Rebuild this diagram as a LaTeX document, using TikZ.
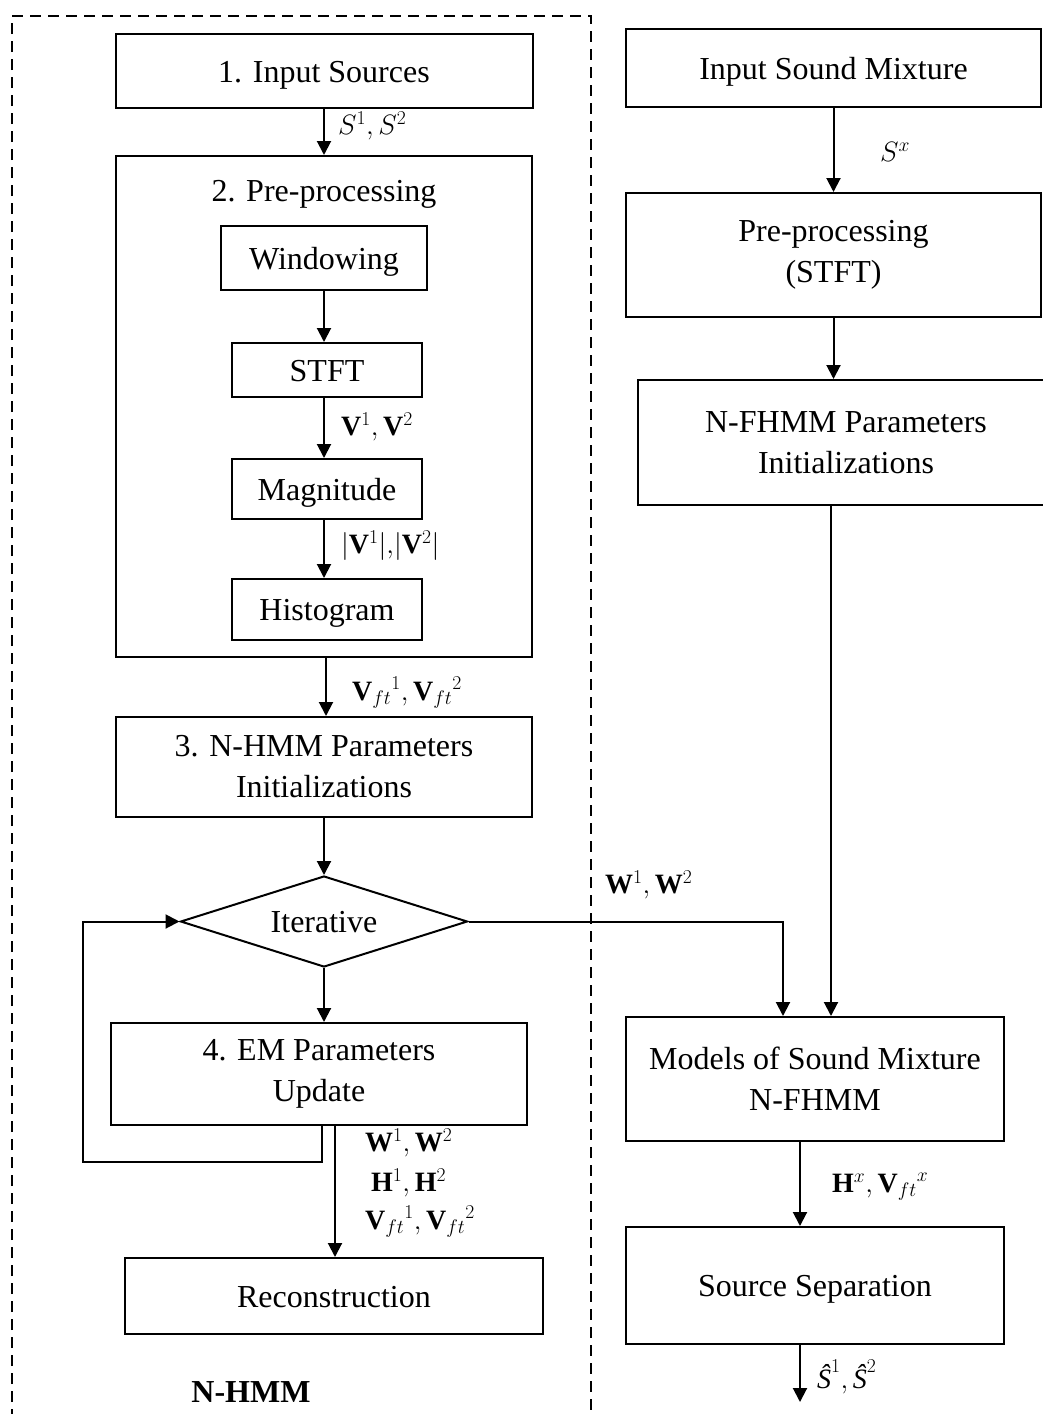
\documentclass[tikz,border=0pt]{standalone}
\usepackage{fix-cm}
\usepackage{fontspec}
\setmainfont{Liberation Serif}
\usetikzlibrary{arrows.meta,shapes.geometric}
\begin{document}
\begin{tikzpicture}[x=1pt,y=-1pt,
  box/.style={draw, line width=2pt, rectangle, inner sep=0pt, align=center, font=\fontsize{32}{41}\selectfont},
  one/.style={text height=22pt, text depth=0pt},
  plain/.style={inner sep=0pt, align=center, font=\fontsize{32}{41}\selectfont},
  lbl/.style={inner sep=0pt, anchor=west, font=\fontsize{28}{34}\selectfont},
  arr/.style={line width=2pt, -{Triangle[length=14pt,width=14pt]}},
  ln/.style={line width=2pt},
  dashbox/.style={line width=2.5pt, dash pattern=on 11pt off 7pt}
]
\useasboundingbox (0,0) rectangle (1043,1414);
\clip (0,0) rectangle (1043,1414);

% dashed N-HMM region
\draw[dashbox] (12,1420) -- (12,16) -- (591,16) -- (591,1420);

% left column
\node[box, one, minimum width=417pt, minimum height=74pt] (in1) at (324,71) {1. Input Sources};
\node[box, minimum width=416pt, minimum height=501pt] (pre) at (324,406.5) {};
\node[plain, one] (pretitle) at (324,190) {2. Pre-processing};
\node[box, one, minimum width=206pt, minimum height=64pt] (win) at (324,258) {Windowing};
\node[box, one, minimum width=190pt, minimum height=54pt] (stft) at (327,370) {STFT};
\node[box, one, minimum width=190pt, minimum height=60pt] (mag) at (327,489) {Magnitude};
\node[box, one, minimum width=190pt, minimum height=61pt] (hist) at (327,609.5) {Histogram};
\node[box, minimum width=416pt, minimum height=100pt] (nhmm) at (324,767) {3. N-HMM Parameters\\Initializations};
\node[draw, line width=2pt, diamond, inner sep=0pt, aspect=3.15, minimum width=287pt, minimum height=91pt,
      text height=22pt, text depth=0pt, font=\fontsize{32}{41}\selectfont] (dia) at (324,921.5) {Iterative};
\node[box, minimum width=416pt, minimum height=102pt] (em) at (319,1074) {4. EM Parameters\\Update};
\node[box, one, minimum width=418pt, minimum height=76pt] (rec) at (334,1296) {Reconstruction};
\node[plain, one, font=\fontsize{32}{41}\selectfont\bfseries] (nhmmlabel) at (251,1391) {N-HMM};

% right column
\node[box, one, minimum width=415pt, minimum height=78pt] (ism) at (833.5,68) {Input Sound Mixture};
\node[box, minimum width=415pt, minimum height=124pt] (rpre) at (833.5,255) {Pre-processing\\(STFT)};
\node[box, minimum width=416pt, minimum height=125pt] (nf) at (846,442.5) {N-FHMM Parameters\\Initializations};
\node[box, minimum width=378pt, minimum height=124pt] (mod) at (815,1079) {Models of Sound Mixture\\N-FHMM};
\node[box, one, minimum width=378pt, minimum height=117pt] (ss) at (815,1285.5) {Source Separation};
\coordinate (out) at (800,1402);

% left connectors
\draw[arr] (in1.south) -- (in1.south |- pre.north);
\node[lbl] (l1) at (338,126) {$S^1, S^2$};
\draw[arr] (win.south) -- (win.south |- stft.north);
\draw[arr] (win.south |- stft.south) -- (win.south |- mag.north);
\node[lbl] (l2) at (341,427) {$\mathbf{V}^1, \mathbf{V}^2$};
\draw[arr] (win.south |- mag.south) -- (win.south |- hist.north);
\node[lbl] (l3) at (341,546) {$|\mathbf{V}^1|{,}|\mathbf{V}^2|$};
\draw[arr] ([xshift=2pt]pre.south) -- ([xshift=2pt]pre.south |- nhmm.north);
\node[lbl] (l4) at (352,693) {${\mathbf{V}_{ft}}^1, {\mathbf{V}_{ft}}^2$};
\draw[arr] (nhmm.south) -- (dia.north);
\draw[arr] (dia.south) -- (dia.south |- em.north);
\draw[arr] ([xshift=3pt]em.south) |- (83,1162) |- (dia.west);
\draw[arr] ([xshift=16pt]em.south) -- ([xshift=16pt]em.south |- rec.north);
\node[lbl] (l5) at (365,1143) {$\mathbf{W}^1, \mathbf{W}^2$};
\node[lbl] (l6) at (371,1183) {$\mathbf{H}^1, \mathbf{H}^2$};
\node[lbl] (l7) at (365,1222) {${\mathbf{V}_{ft}}^1, {\mathbf{V}_{ft}}^2$};

% cross connector
\draw[arr] (dia.east) -| ([xshift=-32pt]mod.north);
\node[lbl] (l8) at (605,885) {$\mathbf{W}^1, \mathbf{W}^2$};

% right connectors
\draw[arr] (ism.south) -- (ism.south |- rpre.north);
\node[lbl] (l9) at (880,152) {$S^x$};
\draw[arr] (rpre.south) -- (rpre.south |- nf.north);
\draw[arr] ([xshift=-15pt]nf.south) -- ([xshift=16pt]mod.north);
\draw[arr] ([xshift=-15pt]mod.south) -- ([xshift=-15pt]ss.north);
\node[lbl] (l10) at (832,1187) {$\mathbf{H}^x, {\mathbf{V}_{ft}}^x$};
\draw[arr] ([xshift=-15pt]ss.south) -- (out);
\node[lbl] (l11) at (817,1377) {$\textit{Ŝ}^1, \textit{Ŝ}^2$};
\end{tikzpicture}
\end{document}
